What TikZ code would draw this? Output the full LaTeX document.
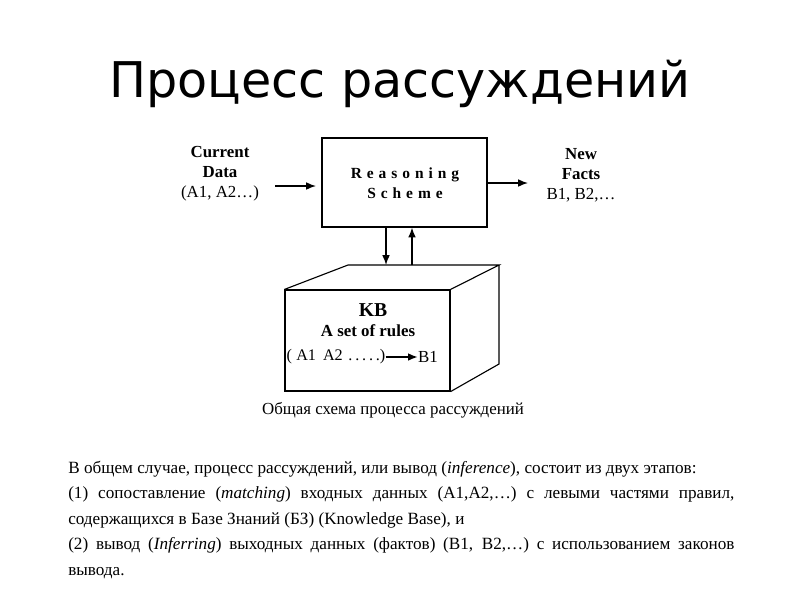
\documentclass[tikz,border=0pt]{standalone}
\usepackage{fontspec}
\setmainfont{Liberation Serif}
\newfontfamily\titlefont{DejaVu Sans}
\usetikzlibrary{arrows.meta}

\begin{document}
\begin{tikzpicture}[
  x=0.025cm, y=-0.025cm,
  lbl/.style={align=center, inner sep=0pt, font=\fontsize{12}{14.3}\selectfont},
  spaced/.style={align=center, inner sep=0pt, font=\fontsize{11}{14.2}\selectfont\bfseries\addfontfeature{LetterSpace=32}},
  arr/.style={-{Latex[length=7pt,width=5.5pt]}, line width=1pt},
  face/.style={line width=0.8pt},
  txt/.style={anchor=base west, inner sep=0pt, font=\fontsize{12.2}{14}\selectfont}
]
  \useasboundingbox (0,0) rectangle (800,600);
  % Title
  \node[font=\titlefont\fontsize{35}{40}\selectfont, anchor=base] (title) at (400,97) {Процесс рассуждений};
  % Reasoning scheme
  \node[draw, face, minimum width=4.125cm, minimum height=2.225cm] (rs) at (404.5,182.5) {};
  \node[spaced] (rsname) at (405,183) {Reasoning\\Scheme};
  \node[lbl] (cur) at (220,174) {\textbf{Current}\\\textbf{Data}\\(A1, A2…)};
  \node[lbl] (new) at (581,175) {\textbf{New}\\\textbf{Facts}\\B1, B2,…};
  \coordinate (inA) at (275,186);
  \coordinate (inB) at (316,186);
  \coordinate (outB) at (528,183);
  \draw[arr] (inA) -- (inB);
  \draw[arr] (rs.east |- outB) -- (outB);
  % KB box
  \node[draw, face, minimum width=4.125cm, minimum height=2.525cm] (kb) at (367.5,340.5) {};
  \draw[face] (kb.north west) -- (348,265) -- (499,265) -- (kb.north east);
  \draw[face] (499,265) -- (499,364) -- (kb.south east);
  \coordinate (kbdn) at (386,265);
  \coordinate (kbup) at (412,265);
  \draw[arr] (rs.south -| kbdn) -- (kbdn);
  \draw[arr] (kbup) -- (rs.south -| kbup);
  \node[lbl, font=\fontsize{14}{16}\selectfont\bfseries] (kbname) at (373,310) {KB};
  \node[lbl, font=\fontsize{12}{14}\selectfont\bfseries] (rules) at (368,331) {A set of rules};
  \node[lbl, font=\fontsize{11.5}{14}\selectfont] (lhs) at (336,357) {(\kern3pt A1\kern5pt A2\kern4pt .\kern2pt.\kern2pt.\kern2pt.\kern2pt.)};
  \node[lbl] (rhs) at (428,357) {B1};
  \draw[arr, line width=1.2pt] (lhs) -- (rhs);
  % Caption
  \node[lbl] (cap) at (393,410) {Общая схема процесса рассуждений};
  % Text
  \node[txt] (l1) at (68,473) {В общем случае, процесс рассуждений, или вывод (\textit{inference}), состоит из двух этапов:};
  \node[txt] (l2) at (68,498) {\makebox[16.65cm][s]{(1) сопоставление (\textit{matching}) входных данных (A1,A2,…) с левыми частями правил,}};
  \node[txt] (l3) at (68,524) {содержащихся в Базе Знаний (БЗ) (Knowledge Base), и};
  \node[txt] (l4) at (68,549) {\makebox[16.65cm][s]{(2) вывод (\textit{Inferring}) выходных данных (фактов) (B1, B2,…) с использованием законов}};
  \node[txt] (l5) at (68,575) {вывода.};
\end{tikzpicture}
\end{document}
